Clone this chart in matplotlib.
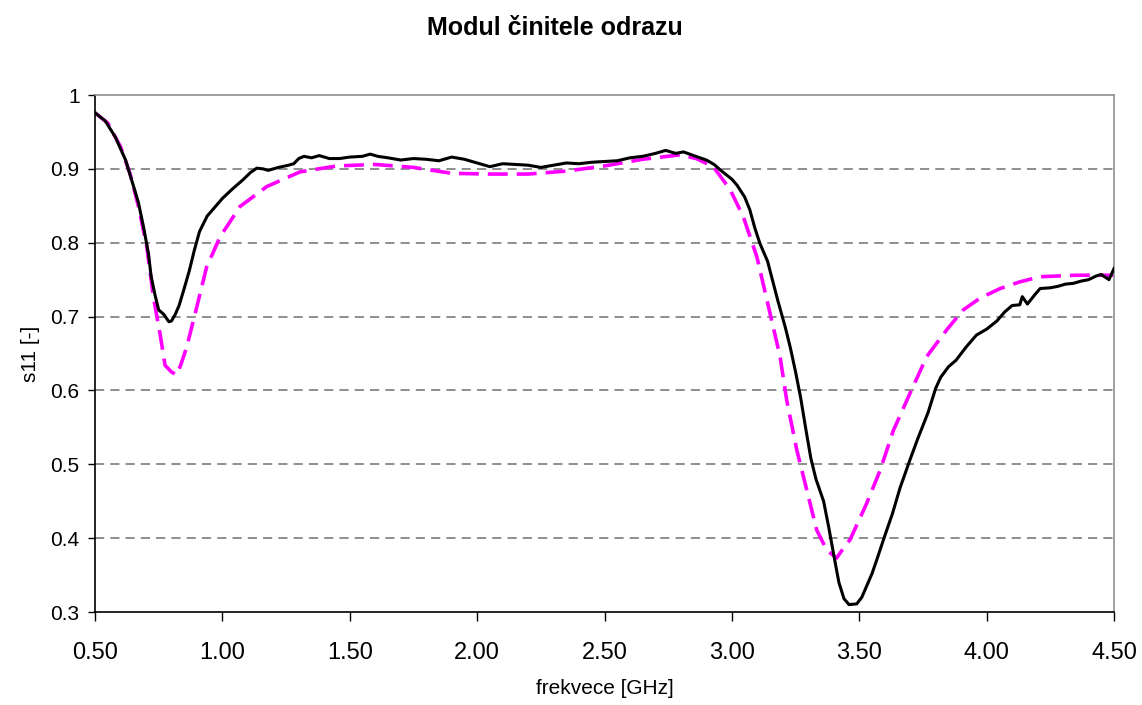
import matplotlib
matplotlib.use("Agg")
import matplotlib.pyplot as plt

# Données
f_mesure = [0.50, 0.54, 0.58, 0.62, 0.64, 0.67, 0.69, 0.71, 0.72, 0.735, 0.75, 0.77, 0.79, 0.80,
            0.815, 0.83, 0.85, 0.87, 0.89, 0.91, 0.94, 0.97, 1.00, 1.04, 1.08, 1.11, 1.135, 1.16,
            1.18, 1.22, 1.26, 1.28, 1.30, 1.32, 1.35, 1.38, 1.42, 1.46, 1.50, 1.55, 1.58, 1.61,
            1.65, 1.70, 1.75, 1.80, 1.85, 1.90, 1.95, 2.00, 2.05, 2.10, 2.15, 2.20, 2.25, 2.30,
            2.35, 2.40, 2.45, 2.50, 2.55, 2.60, 2.65, 2.70, 2.74, 2.78, 2.81, 2.85, 2.90, 2.93,
            2.96, 3.00, 3.02, 3.05, 3.07, 3.09, 3.11, 3.14, 3.18, 3.21, 3.23, 3.25, 3.27, 3.29,
            3.31, 3.33, 3.36, 3.38, 3.40, 3.42, 3.44, 3.46, 3.49, 3.51, 3.53, 3.55, 3.57, 3.60,
            3.63, 3.66, 3.70, 3.73, 3.77, 3.80, 3.82, 3.85, 3.88, 3.92, 3.96, 4.00, 4.04, 4.07,
            4.10, 4.13, 4.14, 4.16, 4.19, 4.21, 4.25, 4.28, 4.31, 4.34, 4.37, 4.40, 4.43, 4.45,
            4.48, 4.50]
s11_mesure = [0.976, 0.965, 0.943, 0.912, 0.889, 0.855, 0.822, 0.785, 0.755, 0.730, 0.709, 0.703,
              0.693, 0.694, 0.703, 0.715, 0.738, 0.762, 0.790, 0.815, 0.836, 0.848, 0.860, 0.873,
              0.885, 0.895, 0.901, 0.900, 0.898, 0.902, 0.905, 0.907, 0.914, 0.917, 0.915, 0.918,
              0.914, 0.914, 0.916, 0.917, 0.920, 0.917, 0.915, 0.912, 0.914, 0.913, 0.911, 0.916,
              0.913, 0.908, 0.903, 0.907, 0.906, 0.905, 0.902, 0.905, 0.908, 0.907, 0.909, 0.910,
              0.911, 0.915, 0.917, 0.921, 0.925, 0.921, 0.923, 0.918, 0.912, 0.906, 0.897, 0.886,
              0.878, 0.862, 0.845, 0.820, 0.799, 0.775, 0.722, 0.685, 0.657, 0.625, 0.590, 0.548,
              0.508, 0.480, 0.450, 0.415, 0.377, 0.340, 0.318, 0.310, 0.311, 0.320, 0.336, 0.352,
              0.372, 0.403, 0.433, 0.468, 0.507, 0.535, 0.570, 0.603, 0.618, 0.632, 0.641, 0.659,
              0.675, 0.683, 0.694, 0.706, 0.715, 0.716, 0.727, 0.717, 0.730, 0.738, 0.739, 0.741,
              0.744, 0.745, 0.748, 0.750, 0.755, 0.757, 0.750, 0.765]

f_simul = [0.50, 0.55, 0.60, 0.637, 0.67, 0.703, 0.729, 0.755, 0.775, 0.80, 0.821, 0.84, 0.86,
           0.893, 0.938, 0.991, 1.069, 1.174, 1.305, 1.449, 1.60, 1.75, 1.90, 2.05, 2.20, 2.35,
           2.50, 2.65, 2.796, 2.86, 2.927, 2.993, 3.045, 3.098, 3.15, 3.189, 3.215, 3.255, 3.294,
           3.333, 3.372, 3.411, 3.435, 3.464, 3.529, 3.582, 3.634, 3.699, 3.765, 3.843, 3.908,
           3.974, 4.053, 4.13, 4.21, 4.35, 4.50]
s11_simul = [0.976, 0.962, 0.930, 0.894, 0.850, 0.795, 0.727, 0.677, 0.634, 0.625, 0.621, 0.638,
             0.659, 0.704, 0.767, 0.808, 0.849, 0.876, 0.896, 0.904, 0.906, 0.902, 0.894, 0.893,
             0.893, 0.897, 0.904, 0.913, 0.919, 0.914, 0.903, 0.872, 0.835, 0.781, 0.704, 0.646,
             0.587, 0.519, 0.465, 0.411, 0.384, 0.373, 0.385, 0.398, 0.447, 0.492, 0.546, 0.596,
             0.646, 0.682, 0.709, 0.725, 0.738, 0.747, 0.754, 0.756, 0.756]

x_ticks = [0.5, 1.0, 1.5, 2.0, 2.5, 3.0, 3.5, 4.0, 4.5]
y_ticks = [0.3, 0.4, 0.5, 0.6, 0.7, 0.8, 0.9, 1.0]

plt.rcParams['font.family'] = ['Liberation Sans', 'DejaVu Sans']

fig = plt.figure(figsize=(11.42, 7.05), dpi=100)
ax = fig.add_axes([0.0832, 0.1319, 0.8923, 0.7333])

for y in y_ticks[1:-1]:
    ax.axhline(y, color='#707070', linewidth=1.1, dashes=(6, 4), zorder=1)

ax.plot(f_simul, s11_simul, color='#FF00FF', linewidth=2.6, dashes=(5.5, 2.5), zorder=2)
ax.plot(f_mesure, s11_mesure, color='black', linewidth=2.2, zorder=3)

ax.set_xlim(0.5, 4.5)
ax.set_ylim(0.3, 1.0)
ax.set_xticks(x_ticks)
ax.set_xticklabels([f"{v:.2f}" for v in x_ticks], fontsize=17)
ax.set_yticks(y_ticks)
ax.set_yticklabels(['0.3', '0.4', '0.5', '0.6', '0.7', '0.8', '0.9', '1'], fontsize=15)
ax.tick_params(axis='x', direction='out', length=6.5, width=1, pad=15)
ax.tick_params(axis='y', direction='out', length=5, width=1, pad=6)

ax.spines['left'].set_color('black')
ax.spines['bottom'].set_color('black')
ax.spines['top'].set_color('#909090')
ax.spines['right'].set_color('#909090')
for s in ax.spines.values():
    s.set_linewidth(1.2)

ax.set_xlabel('frekvece [GHz]', fontsize=15, labelpad=11)
ax.set_ylabel('s11 [-]', fontsize=15, labelpad=8)
fig.suptitle('Modul činitele odrazu', x=0.486, y=0.977, fontsize=18, fontweight='bold')

fig.savefig('out.png', dpi=100)
